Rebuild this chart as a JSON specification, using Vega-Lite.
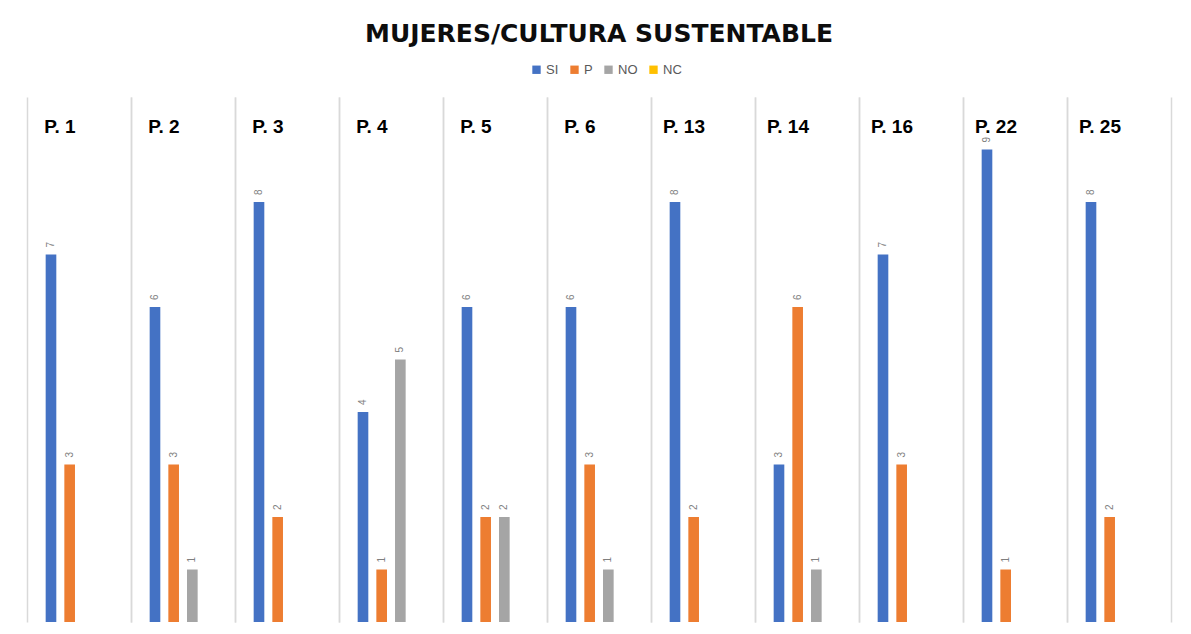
{
  "$schema": "https://vega.github.io/schema/vega-lite/v6.json",
  "autosize": "none",
  "width": 1144,
  "height": 525,
  "padding": {"left": 27, "top": 97, "right": 20, "bottom": 12},
  "background": "white",
  "title": {
    "text": "MUJERES/CULTURA SUSTENTABLE",
    "font": "DejaVu Sans",
    "fontSize": 25,
    "fontWeight": "bold",
    "color": "#0d0d0d",
    "anchor": "middle",
    "offset": 16
  },
  "config": {
    "view": {"stroke": null},
    "legend": {
      "direction": "horizontal",
      "symbolType": "square",
      "symbolSize": 70,
      "labelFont": "Liberation Sans",
      "labelFontSize": 13,
      "labelColor": "#595959",
      "labelOffset": 3,
      "columnPadding": 9,
      "symbolStrokeWidth": 0,
      "title": null
    }
  },
  "data": {
    "values": [
      {"pregunta": "P. 1", "serie": "SI", "valor": 7},
      {"pregunta": "P. 1", "serie": "P", "valor": 3},
      {"pregunta": "P. 2", "serie": "SI", "valor": 6},
      {"pregunta": "P. 2", "serie": "P", "valor": 3},
      {"pregunta": "P. 2", "serie": "NO", "valor": 1},
      {"pregunta": "P. 3", "serie": "SI", "valor": 8},
      {"pregunta": "P. 3", "serie": "P", "valor": 2},
      {"pregunta": "P. 4", "serie": "SI", "valor": 4},
      {"pregunta": "P. 4", "serie": "P", "valor": 1},
      {"pregunta": "P. 4", "serie": "NO", "valor": 5},
      {"pregunta": "P. 5", "serie": "SI", "valor": 6},
      {"pregunta": "P. 5", "serie": "P", "valor": 2},
      {"pregunta": "P. 5", "serie": "NO", "valor": 2},
      {"pregunta": "P. 6", "serie": "SI", "valor": 6},
      {"pregunta": "P. 6", "serie": "P", "valor": 3},
      {"pregunta": "P. 6", "serie": "NO", "valor": 1},
      {"pregunta": "P. 13", "serie": "SI", "valor": 8},
      {"pregunta": "P. 13", "serie": "P", "valor": 2},
      {"pregunta": "P. 14", "serie": "SI", "valor": 3},
      {"pregunta": "P. 14", "serie": "P", "valor": 6},
      {"pregunta": "P. 14", "serie": "NO", "valor": 1},
      {"pregunta": "P. 16", "serie": "SI", "valor": 7},
      {"pregunta": "P. 16", "serie": "P", "valor": 3},
      {"pregunta": "P. 22", "serie": "SI", "valor": 9},
      {"pregunta": "P. 22", "serie": "P", "valor": 1},
      {"pregunta": "P. 25", "serie": "SI", "valor": 8},
      {"pregunta": "P. 25", "serie": "P", "valor": 2}
    ]
  },
  "encoding": {
    "x": {
      "field": "pregunta",
      "type": "nominal",
      "sort": ["P. 1", "P. 2", "P. 3", "P. 4", "P. 5", "P. 6", "P. 13", "P. 14", "P. 16", "P. 22", "P. 25"],
      "scale": {"paddingInner": 0, "paddingOuter": 0}
    },
    "xOffset": {
      "field": "serie",
      "type": "nominal",
      "scale": {"domain": ["SI", "P", "NO", "NC"], "paddingInner": 0.43, "paddingOuter": 1.19}
    },
    "y": {
      "field": "valor",
      "type": "quantitative",
      "scale": {"domain": [0, 10], "nice": false, "zero": true},
      "axis": null
    }
  },
  "layer": [
    {
      "mark": {"type": "bar"},
      "encoding": {
        "x": {
          "field": "pregunta",
          "type": "nominal",
          "sort": ["P. 1", "P. 2", "P. 3", "P. 4", "P. 5", "P. 6", "P. 13", "P. 14", "P. 16", "P. 22", "P. 25"],
          "axis": {
            "orient": "top",
            "title": null,
            "bandPosition": 0,
            "grid": true,
            "gridColor": "#d9d9d9",
            "gridWidth": 1.5,
            "domain": false,
            "ticks": false,
            "labelAngle": 0,
            "labelAlign": "center",
            "labelBaseline": "middle",
            "labelOffset": -19,
            "labelPadding": -29,
            "labelFont": "Liberation Sans",
            "labelFontSize": 19,
            "labelFontWeight": "bold",
            "labelColor": "#000000"
          }
        },
        "color": {
          "field": "serie",
          "type": "nominal",
          "scale": {"domain": ["SI", "P", "NO", "NC"], "range": ["#4472C4", "#ED7D31", "#A5A5A5", "#FFC000"]},
          "legend": {"orient": "none", "legendX": 503, "legendY": -34}
        }
      }
    },
    {
      "mark": {"type": "text", "angle": 270, "align": "left", "baseline": "middle", "dx": 7, "fontSize": 10, "font": "Liberation Sans", "color": "#7f7f7f"},
      "encoding": {
        "x": {
          "field": "pregunta",
          "type": "nominal",
          "sort": ["P. 1", "P. 2", "P. 3", "P. 4", "P. 5", "P. 6", "P. 13", "P. 14", "P. 16", "P. 22", "P. 25"],
          "axis": {
            "orient": "bottom",
            "title": null,
            "bandPosition": 1,
            "grid": true,
            "gridColor": "#d9d9d9",
            "gridWidth": 1.5,
            "domain": false,
            "ticks": false,
            "labels": false
          }
        },
        "text": {"field": "valor", "type": "quantitative"}
      }
    }
  ],
  "resolve": {"axis": {"x": "independent"}}
}
